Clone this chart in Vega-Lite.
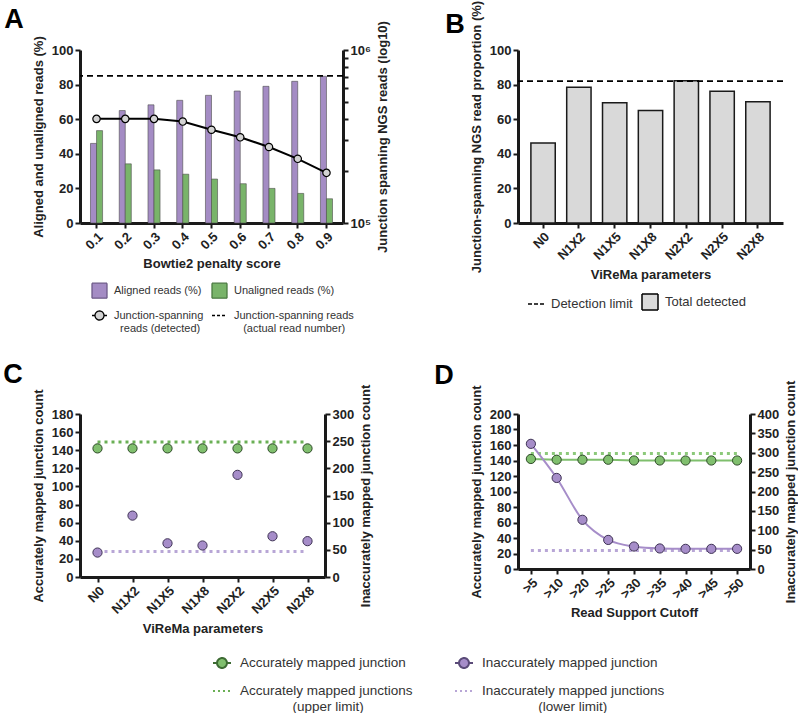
{
  "$schema": "https://vega.github.io/schema/vega-lite/v6.json",
  "background": "white",
  "padding": {"left": 3, "top": 0, "right": 0, "bottom": 0},
  "bounds": "flush",
  "spacing": 364,
  "resolve": {"scale": {"color": "independent", "fill": "independent", "stroke": "independent", "shape": "independent", "strokeDash": "independent"}, "legend": {"color": "independent", "fill": "independent", "stroke": "independent", "shape": "independent", "strokeDash": "independent"}},
  "config": {
    "font": "Liberation Sans",
    "view": {"stroke": null},
    "axis": {
      "domainColor": "#1a1a1a", "domainWidth": 3, "tickColor": "#1a1a1a", "tickWidth": 2, "tickSize": 5,
      "labelFont": "Liberation Sans", "labelFontSize": 13, "labelFontWeight": "bold", "labelColor": "#222",
      "titleFont": "Liberation Sans", "titleFontSize": 13, "titleFontWeight": "bold", "titleColor": "#222",
      "grid": false, "labelPadding": 2, "titlePadding": 6, "labelOverlap": false
    },
    "legend": {"labelFont": "Liberation Sans", "labelColor": "#333", "labelLimit": 400},
    "title": {"fontSize": 27, "fontWeight": "bold", "anchor": "start", "frame": "bounds", "color": "black", "font": "Liberation Sans"}
  },
  "datasets": {
    "a_bars": [
      {"score": "0.1", "series": "Aligned reads (%)", "value": 46.0},
      {"score": "0.1", "series": "Unaligned reads (%)", "value": 53.4},
      {"score": "0.2", "series": "Aligned reads (%)", "value": 65.0},
      {"score": "0.2", "series": "Unaligned reads (%)", "value": 34.2},
      {"score": "0.3", "series": "Aligned reads (%)", "value": 68.3},
      {"score": "0.3", "series": "Unaligned reads (%)", "value": 30.7},
      {"score": "0.4", "series": "Aligned reads (%)", "value": 70.9},
      {"score": "0.4", "series": "Unaligned reads (%)", "value": 28.2},
      {"score": "0.5", "series": "Aligned reads (%)", "value": 73.8},
      {"score": "0.5", "series": "Unaligned reads (%)", "value": 25.4},
      {"score": "0.6", "series": "Aligned reads (%)", "value": 76.3},
      {"score": "0.6", "series": "Unaligned reads (%)", "value": 22.7},
      {"score": "0.7", "series": "Aligned reads (%)", "value": 79.0},
      {"score": "0.7", "series": "Unaligned reads (%)", "value": 20.0},
      {"score": "0.8", "series": "Aligned reads (%)", "value": 81.9},
      {"score": "0.8", "series": "Unaligned reads (%)", "value": 17.1},
      {"score": "0.9", "series": "Aligned reads (%)", "value": 84.8},
      {"score": "0.9", "series": "Unaligned reads (%)", "value": 14.0}
    ],
    "a_line": [
      {"score": "0.1", "reads": 400000},
      {"score": "0.2", "reads": 400000},
      {"score": "0.3", "reads": 400000},
      {"score": "0.4", "reads": 386000},
      {"score": "0.5", "reads": 346000},
      {"score": "0.6", "reads": 313000},
      {"score": "0.7", "reads": 275000},
      {"score": "0.8", "reads": 235000},
      {"score": "0.9", "reads": 195000}
    ],
    "a_limit": [{"reads": 708000}],
    "b_bars": [
      {"param": "N0", "series": "Total detected", "value": 46.2},
      {"param": "N1X2", "series": "Total detected", "value": 78.4},
      {"param": "N1X5", "series": "Total detected", "value": 69.5},
      {"param": "N1X8", "series": "Total detected", "value": 65.1},
      {"param": "N2X2", "series": "Total detected", "value": 82.2},
      {"param": "N2X5", "series": "Total detected", "value": 76.1},
      {"param": "N2X8", "series": "Total detected", "value": 70.1}
    ],
    "b_limit": [{"series": "Detection limit", "value": 82.0}],
    "c_points": [
      {"param": "N0", "series": "Accurately mapped junction", "value": 142},
      {"param": "N1X2", "series": "Accurately mapped junction", "value": 142},
      {"param": "N1X5", "series": "Accurately mapped junction", "value": 142},
      {"param": "N1X8", "series": "Accurately mapped junction", "value": 142},
      {"param": "N2X2", "series": "Accurately mapped junction", "value": 142},
      {"param": "N2X5", "series": "Accurately mapped junction", "value": 142},
      {"param": "N2X8", "series": "Accurately mapped junction", "value": 142},
      {"param": "N0", "series": "Inaccurately mapped junction", "value": 45},
      {"param": "N1X2", "series": "Inaccurately mapped junction", "value": 113},
      {"param": "N1X5", "series": "Inaccurately mapped junction", "value": 62},
      {"param": "N1X8", "series": "Inaccurately mapped junction", "value": 58},
      {"param": "N2X2", "series": "Inaccurately mapped junction", "value": 188},
      {"param": "N2X5", "series": "Inaccurately mapped junction", "value": 75},
      {"param": "N2X8", "series": "Inaccurately mapped junction", "value": 66}
    ],
    "c_limits": [
      {"param": "N0", "series": "Accurately mapped junctions (upper limit)", "value": 149},
      {"param": "N1X2", "series": "Accurately mapped junctions (upper limit)", "value": 149},
      {"param": "N1X5", "series": "Accurately mapped junctions (upper limit)", "value": 149},
      {"param": "N1X8", "series": "Accurately mapped junctions (upper limit)", "value": 149},
      {"param": "N2X2", "series": "Accurately mapped junctions (upper limit)", "value": 149},
      {"param": "N2X5", "series": "Accurately mapped junctions (upper limit)", "value": 149},
      {"param": "N2X8", "series": "Accurately mapped junctions (upper limit)", "value": 149},
      {"param": "N0", "series": "Inaccurately mapped junctions (lower limit)", "value": 47},
      {"param": "N1X2", "series": "Inaccurately mapped junctions (lower limit)", "value": 47},
      {"param": "N1X5", "series": "Inaccurately mapped junctions (lower limit)", "value": 47},
      {"param": "N1X8", "series": "Inaccurately mapped junctions (lower limit)", "value": 47},
      {"param": "N2X2", "series": "Inaccurately mapped junctions (lower limit)", "value": 47},
      {"param": "N2X5", "series": "Inaccurately mapped junctions (lower limit)", "value": 47},
      {"param": "N2X8", "series": "Inaccurately mapped junctions (lower limit)", "value": 47}
    ],
    "d_points": [
      {"cutoff": ">5", "series": "Accurately mapped junction", "value": 142},
      {"cutoff": ">10", "series": "Accurately mapped junction", "value": 141},
      {"cutoff": ">20", "series": "Accurately mapped junction", "value": 141},
      {"cutoff": ">25", "series": "Accurately mapped junction", "value": 141},
      {"cutoff": ">30", "series": "Accurately mapped junction", "value": 140},
      {"cutoff": ">35", "series": "Accurately mapped junction", "value": 140},
      {"cutoff": ">40", "series": "Accurately mapped junction", "value": 140},
      {"cutoff": ">45", "series": "Accurately mapped junction", "value": 140},
      {"cutoff": ">50", "series": "Accurately mapped junction", "value": 140},
      {"cutoff": ">5", "series": "Inaccurately mapped junction", "value": 323},
      {"cutoff": ">10", "series": "Inaccurately mapped junction", "value": 235},
      {"cutoff": ">20", "series": "Inaccurately mapped junction", "value": 127},
      {"cutoff": ">25", "series": "Inaccurately mapped junction", "value": 75},
      {"cutoff": ">30", "series": "Inaccurately mapped junction", "value": 58},
      {"cutoff": ">35", "series": "Inaccurately mapped junction", "value": 53},
      {"cutoff": ">40", "series": "Inaccurately mapped junction", "value": 52},
      {"cutoff": ">45", "series": "Inaccurately mapped junction", "value": 52},
      {"cutoff": ">50", "series": "Inaccurately mapped junction", "value": 52}
    ],
    "d_limits": [
      {"cutoff": ">5", "series": "Accurately mapped junctions (upper limit)", "value": 149},
      {"cutoff": ">10", "series": "Accurately mapped junctions (upper limit)", "value": 149},
      {"cutoff": ">20", "series": "Accurately mapped junctions (upper limit)", "value": 149},
      {"cutoff": ">25", "series": "Accurately mapped junctions (upper limit)", "value": 149},
      {"cutoff": ">30", "series": "Accurately mapped junctions (upper limit)", "value": 149},
      {"cutoff": ">35", "series": "Accurately mapped junctions (upper limit)", "value": 149},
      {"cutoff": ">40", "series": "Accurately mapped junctions (upper limit)", "value": 149},
      {"cutoff": ">45", "series": "Accurately mapped junctions (upper limit)", "value": 149},
      {"cutoff": ">50", "series": "Accurately mapped junctions (upper limit)", "value": 149},
      {"cutoff": ">5", "series": "Inaccurately mapped junctions (lower limit)", "value": 48},
      {"cutoff": ">10", "series": "Inaccurately mapped junctions (lower limit)", "value": 48},
      {"cutoff": ">20", "series": "Inaccurately mapped junctions (lower limit)", "value": 48},
      {"cutoff": ">25", "series": "Inaccurately mapped junctions (lower limit)", "value": 48},
      {"cutoff": ">30", "series": "Inaccurately mapped junctions (lower limit)", "value": 48},
      {"cutoff": ">35", "series": "Inaccurately mapped junctions (lower limit)", "value": 48},
      {"cutoff": ">40", "series": "Inaccurately mapped junctions (lower limit)", "value": 48},
      {"cutoff": ">45", "series": "Inaccurately mapped junctions (lower limit)", "value": 48},
      {"cutoff": ">50", "series": "Inaccurately mapped junctions (lower limit)", "value": 48}
    ]
  },
  "vconcat": [
    {
      "hconcat": [
        {
          "width": 263, "height": 173,
          "title": {"text": "A", "dx": -28, "dy": 17},
          "layer": [
            {
              "data": {"name": "a_bars"},
              "mark": {"type": "bar", "stroke": "#4d4d4d", "strokeWidth": 0.6},
              "encoding": {
                "x": {"field": "score", "type": "ordinal", "scale": {"paddingInner": 0.58, "paddingOuter": 0.365},
                      "axis": {"title": "Bowtie2 penalty score", "labelAngle": -45}},
                "xOffset": {"field": "series", "type": "nominal", "scale": {"domain": ["Aligned reads (%)", "Unaligned reads (%)"]}},
                "y": {"field": "value", "type": "quantitative", "scale": {"domain": [0, 100], "nice": false},
                      "axis": {"title": "Aligned and unaligned reads (%)", "values": [0, 20, 40, 60, 80, 100], "labelOverlap": false}},
                "color": {
                  "field": "series", "type": "nominal",
                  "scale": {"domain": ["Aligned reads (%)", "Unaligned reads (%)"], "range": ["#a48cc4", "#79b46a"]},
                  "legend": null
                }
              }
            },
            {
              "data": {"name": "a_bars"},
              "transform": [{"filter": "false"}],
              "mark": {"type": "point", "filled": true, "opacity": 1},
              "encoding": {
                "fill": {
                  "field": "series", "type": "nominal",
                  "scale": {"domain": ["Aligned reads (%)", "Unaligned reads (%)", "Junction-spanning reads (detected)", "Junction-spanning reads (actual read number)"],
                            "range": ["#a48cc4", "#79b46a", "#d3d3d3", "transparent"]},
                  "legend": {
                    "orient": "none", "legendX": 11, "legendY": 232, "columns": 2, "direction": "horizontal", "title": null,
                    "labelFontSize": 11, "symbolSize": 225, "symbolStrokeWidth": 1.3, "symbolOpacity": 1, "labelOffset": 6, "columnPadding": 5, "rowPadding": 6,
                    "labelExpr": "datum.label == 'Junction-spanning reads (detected)' ? ['Junction-spanning', '\u200b\u00a0\u00a0reads (detected)'] : datum.label == 'Junction-spanning reads (actual read number)' ? ['Junction-spanning reads', '\u200b\u00a0\u00a0\u00a0(actual read number)'] : datum.label"
                  }
                },
                "stroke": {
                  "field": "series", "type": "nominal",
                  "scale": {"domain": ["Aligned reads (%)", "Unaligned reads (%)", "Junction-spanning reads (detected)", "Junction-spanning reads (actual read number)"],
                            "range": ["#6d5a88", "#4a7a40", "#000000", "#000000"]}
                },
                "shape": {
                  "field": "series", "type": "nominal",
                  "scale": {"domain": ["Aligned reads (%)", "Unaligned reads (%)", "Junction-spanning reads (detected)", "Junction-spanning reads (actual read number)"],
                            "range": ["square", "square", "M-1,0H-0.6M0.6,0H1M-0.6,0A0.6,0.6,0,1,1,0.6,0A0.6,0.6,0,1,1,-0.6,0Z", "stroke"]}
                },
                "strokeDash": {
                  "field": "series", "type": "nominal",
                  "scale": {"domain": ["Aligned reads (%)", "Unaligned reads (%)", "Junction-spanning reads (detected)", "Junction-spanning reads (actual read number)"],
                            "range": [[1, 0], [1, 0], [1, 0], [3, 2]]}
                }
              }
            },
            {
              "layer": [
                {
                  "data": {"name": "a_line"},
                  "mark": {"type": "line", "color": "black", "strokeWidth": 2,
                           "point": {"filled": true, "fill": "#d3d3d3", "stroke": "black", "strokeWidth": 1.2, "size": 55}},
                  "encoding": {
                    "x": {"field": "score", "type": "ordinal"},
                    "y": {"field": "reads", "type": "quantitative",
                          "scale": {"type": "log", "domain": [100000, 1000000], "nice": false},
                          "axis": {"orient": "right", "title": "Junction spanning NGS reads (log10)", "titleAngle": 270, "titleBaseline": "top",
                                   "values": [100000, 200000, 300000, 400000, 500000, 600000, 700000, 800000, 900000, 1000000],
                                   "labelExpr": "datum.value == 100000 ? '10\u2075' : datum.value == 1000000 ? '10\u2076' : ''",
                                   "labelFlush": false, "labelOverlap": false}}
                  }
                },
                {
                  "data": {"name": "a_limit"},
                  "mark": {"type": "rule", "strokeDash": [6, 4], "strokeWidth": 1.8, "color": "black"},
                  "encoding": {"y": {"field": "reads", "type": "quantitative",
                          "axis": {"orient": "right", "title": "Junction spanning NGS reads (log10)", "titleAngle": 270, "titleBaseline": "top",
                                   "values": [100000, 200000, 300000, 400000, 500000, 600000, 700000, 800000, 900000, 1000000],
                                   "labelExpr": "datum.value == 100000 ? '10\u2075' : datum.value == 1000000 ? '10\u2076' : ''",
                                   "labelFlush": false, "labelOverlap": false}}}
                }
              ]
            }
          ],
          "resolve": {"scale": {"y": "independent"}}
        },
        {
          "width": 265, "height": 173,
          "title": {"text": "B", "dx": -25, "dy": 43},
          "layer": [
            {
              "data": {"name": "b_bars"},
              "mark": {"type": "bar", "stroke": "#1a1a1a", "strokeWidth": 1.5, "color": "#d9d9d9"},
              "encoding": {
                "x": {"field": "param", "type": "nominal", "sort": null, "scale": {"paddingInner": 0.32, "paddingOuter": 0.36},
                      "axis": {"title": "ViReMa parameters", "labelAngle": -45}},
                "y": {"field": "value", "type": "quantitative", "scale": {"domain": [0, 100], "nice": false},
                      "axis": {"title": "Junction-spanning NGS read proportion (%)", "values": [0, 20, 40, 60, 80, 100], "labelOverlap": false}}
              }
            },
            {
              "data": {"name": "b_limit"},
              "mark": {"type": "rule", "strokeDash": [6, 4], "strokeWidth": 1.8, "color": "black"},
              "encoding": {"y": {"field": "value", "type": "quantitative",
                      "axis": {"title": "Junction-spanning NGS read proportion (%)", "values": [0, 20, 40, 60, 80, 100], "labelOverlap": false}}}
            },
            {
              "data": {"name": "b_bars"},
              "transform": [{"filter": "false"}],
              "mark": {"type": "point", "filled": true, "opacity": 1},
              "encoding": {
                "fill": {
                  "field": "series", "type": "nominal",
                  "scale": {"domain": ["Detection limit", "Total detected"], "range": ["transparent", "#d9d9d9"]},
                  "legend": {
                    "orient": "none", "legendX": 9, "legendY": 243, "direction": "horizontal", "title": null,
                    "labelFontSize": 13, "symbolSize": 256, "symbolStrokeWidth": 1.5, "symbolOpacity": 1, "labelOffset": 6, "columnPadding": 6
                  }
                },
                "stroke": {"field": "series", "type": "nominal", "scale": {"domain": ["Detection limit", "Total detected"], "range": ["#000000", "#000000"]}},
                "shape": {"field": "series", "type": "nominal", "scale": {"domain": ["Detection limit", "Total detected"], "range": ["stroke", "square"]}},
                "strokeDash": {"field": "series", "type": "nominal", "scale": {"domain": ["Detection limit", "Total detected"], "range": [[4, 2], [1, 0]]}}
              }
            }
          ]
        }
      ],
      "spacing": 175,
      "bounds": "flush",
      "resolve": {"scale": {"color": "independent", "fill": "independent", "stroke": "independent", "shape": "independent", "strokeDash": "independent"}, "legend": {"color": "independent", "fill": "independent", "stroke": "independent", "shape": "independent", "strokeDash": "independent"}}
    },
    {
      "hconcat": [
        {
          "width": 245, "height": 163,
          "title": {"text": "C", "dx": -29, "dy": 9},
          "layer": [
            {
              "layer": [
                {
                  "data": {"name": "c_limits"},
                  "transform": [{"filter": "datum.series == 'Accurately mapped junctions (upper limit)'"}],
                  "mark": {"type": "line", "color": "#6aaf55", "strokeWidth": 3, "strokeDash": [3, 4]},
                  "encoding": {
                    "x": {"field": "param", "type": "nominal", "sort": null, "axis": {"title": "ViReMa parameters", "labelAngle": -45}},
                    "y": {"field": "value", "type": "quantitative", "scale": {"domain": [0, 180], "nice": false},
                          "axis": {"title": "Accurately mapped junction count", "values": [0, 20, 40, 60, 80, 100, 120, 140, 160, 180], "labelOverlap": false}}
                  }
                },
                {
                  "data": {"name": "c_points"},
                  "transform": [{"filter": "datum.series == 'Accurately mapped junction'"}],
                  "mark": {"type": "point", "filled": true, "size": 85, "fill": "#80bf6e", "stroke": "#2d4a27", "strokeWidth": 1, "opacity": 1},
                  "encoding": {
                    "x": {"field": "param", "type": "nominal", "sort": null, "axis": {"title": "ViReMa parameters", "labelAngle": -45}},
                    "y": {"field": "value", "type": "quantitative",
                          "axis": {"title": "Accurately mapped junction count", "values": [0, 20, 40, 60, 80, 100, 120, 140, 160, 180], "labelOverlap": false}}
                  }
                },
                {
                  "data": {"name": "c_points"},
                  "transform": [{"filter": "false"}],
                  "mark": {"type": "point", "filled": true, "opacity": 1},
                  "encoding": {
                    "fill": {
                      "field": "series", "type": "nominal",
                      "scale": {"domain": ["Accurately mapped junction", "Inaccurately mapped junction", "Accurately mapped junctions (upper limit)", "Inaccurately mapped junctions (lower limit)"],
                                "range": ["#80bf6e", "#a68dc9", "transparent", "transparent"]},
                      "legend": {
                        "orient": "none", "legendX": 132, "legendY": 239, "columns": 2, "direction": "horizontal", "title": null,
                        "labelFontSize": 13.5, "symbolSize": 324, "symbolStrokeWidth": 2, "symbolOpacity": 1, "labelOffset": 8, "columnPadding": 38, "rowPadding": 9,
                        "labelExpr": "datum.label == 'Accurately mapped junctions (upper limit)' ? ['Accurately mapped junctions', '\u200b\u00a0\u00a0\u00a0\u00a0\u00a0\u00a0\u00a0\u00a0\u00a0\u00a0\u00a0\u00a0\u00a0\u00a0(upper limit)'] : datum.label == 'Inaccurately mapped junctions (lower limit)' ? ['Inaccurately mapped junctions', '\u200b\u00a0\u00a0\u00a0\u00a0\u00a0\u00a0\u00a0\u00a0\u00a0\u00a0\u00a0\u00a0\u00a0\u00a0\u00a0(lower limit)'] : datum.label"
                      }
                    },
                    "stroke": {
                      "field": "series", "type": "nominal",
                      "scale": {"domain": ["Accurately mapped junction", "Inaccurately mapped junction", "Accurately mapped junctions (upper limit)", "Inaccurately mapped junctions (lower limit)"],
                                "range": ["#3d6b33", "#5a4a78", "#6aaf55", "#b8a6d6"]}
                    },
                    "shape": {
                      "field": "series", "type": "nominal",
                      "scale": {"domain": ["Accurately mapped junction", "Inaccurately mapped junction", "Accurately mapped junctions (upper limit)", "Inaccurately mapped junctions (lower limit)"],
                                "range": ["M-1,0H-0.55M0.55,0H1M-0.55,0A0.55,0.55,0,1,1,0.55,0A0.55,0.55,0,1,1,-0.55,0Z", "M-1,0H-0.55M0.55,0H1M-0.55,0A0.55,0.55,0,1,1,0.55,0A0.55,0.55,0,1,1,-0.55,0Z", "stroke", "stroke"]}
                    },
                    "strokeDash": {
                      "field": "series", "type": "nominal",
                      "scale": {"domain": ["Accurately mapped junction", "Inaccurately mapped junction", "Accurately mapped junctions (upper limit)", "Inaccurately mapped junctions (lower limit)"],
                                "range": [[1, 0], [1, 0], [2, 3], [2, 3]]}
                    }
                  }
                }
              ]
            },
            {
              "layer": [
                {
                  "data": {"name": "c_limits"},
                  "transform": [{"filter": "datum.series == 'Inaccurately mapped junctions (lower limit)'"}],
                  "mark": {"type": "line", "color": "#b8a6d6", "strokeWidth": 3, "strokeDash": [3, 4]},
                  "encoding": {
                    "x": {"field": "param", "type": "nominal", "sort": null, "axis": {"title": "ViReMa parameters", "labelAngle": -45}},
                    "y": {"field": "value", "type": "quantitative", "scale": {"domain": [0, 300], "nice": false},
                          "axis": {"orient": "right", "title": "Inaccurately mapped junction count", "titleAngle": 270, "titleBaseline": "top",
                                   "values": [0, 50, 100, 150, 200, 250, 300], "labelOverlap": false}}
                  }
                },
                {
                  "data": {"name": "c_points"},
                  "transform": [{"filter": "datum.series == 'Inaccurately mapped junction'"}],
                  "mark": {"type": "point", "filled": true, "size": 85, "fill": "#a68dc9", "stroke": "#3f3355", "strokeWidth": 1, "opacity": 1},
                  "encoding": {
                    "x": {"field": "param", "type": "nominal", "sort": null, "axis": {"title": "ViReMa parameters", "labelAngle": -45}},
                    "y": {"field": "value", "type": "quantitative",
                          "axis": {"orient": "right", "title": "Inaccurately mapped junction count", "titleAngle": 270, "titleBaseline": "top",
                                   "values": [0, 50, 100, 150, 200, 250, 300], "labelOverlap": false}}
                  }
                }
              ]
            }
          ],
          "resolve": {"scale": {"y": "independent"}}
        },
        {
          "width": 232, "height": 155,
          "title": {"text": "D", "dx": -36, "dy": 14},
          "layer": [
            {
              "layer": [
                {
                  "data": {"name": "d_limits"},
                  "transform": [{"filter": "datum.series == 'Accurately mapped junctions (upper limit)'"}],
                  "mark": {"type": "line", "color": "#8cc97a", "strokeWidth": 3, "strokeDash": [3, 4]},
                  "encoding": {
                    "x": {"field": "cutoff", "type": "nominal", "sort": null, "axis": {"title": "Read Support Cutoff", "labelAngle": -45}},
                    "y": {"field": "value", "type": "quantitative", "scale": {"domain": [0, 200], "nice": false},
                          "axis": {"title": "Accurately mapped junction count", "values": [0, 20, 40, 60, 80, 100, 120, 140, 160, 180, 200], "labelOverlap": false}}
                  }
                },
                {
                  "data": {"name": "d_points"},
                  "transform": [{"filter": "datum.series == 'Accurately mapped junction'"}],
                  "mark": {"type": "line", "color": "#7fbf6d", "strokeWidth": 2,
                           "point": {"filled": true, "fill": "#80bf6e", "stroke": "#2d4a27", "strokeWidth": 1, "size": 85}},
                  "encoding": {
                    "x": {"field": "cutoff", "type": "nominal", "sort": null, "axis": {"title": "Read Support Cutoff", "labelAngle": -45}},
                    "y": {"field": "value", "type": "quantitative",
                          "axis": {"title": "Accurately mapped junction count", "values": [0, 20, 40, 60, 80, 100, 120, 140, 160, 180, 200], "labelOverlap": false}}
                  }
                }
              ]
            },
            {
              "layer": [
                {
                  "data": {"name": "d_limits"},
                  "transform": [{"filter": "datum.series == 'Inaccurately mapped junctions (lower limit)'"}],
                  "mark": {"type": "line", "color": "#b8a6d6", "strokeWidth": 3, "strokeDash": [3, 4]},
                  "encoding": {
                    "x": {"field": "cutoff", "type": "nominal", "sort": null, "axis": {"title": "Read Support Cutoff", "labelAngle": -45}},
                    "y": {"field": "value", "type": "quantitative", "scale": {"domain": [0, 400], "nice": false},
                          "axis": {"orient": "right", "title": "Inaccurately mapped junction count", "titleAngle": 270, "titleBaseline": "top",
                                   "values": [0, 50, 100, 150, 200, 250, 300, 350, 400], "labelOverlap": false}}
                  }
                },
                {
                  "data": {"name": "d_points"},
                  "transform": [{"filter": "datum.series == 'Inaccurately mapped junction'"}],
                  "mark": {"type": "line", "color": "#a68dc9", "strokeWidth": 2, "interpolate": "monotone",
                           "point": {"filled": true, "fill": "#a68dc9", "stroke": "#3f3355", "strokeWidth": 1, "size": 85}},
                  "encoding": {
                    "x": {"field": "cutoff", "type": "nominal", "sort": null, "axis": {"title": "Read Support Cutoff", "labelAngle": -45}},
                    "y": {"field": "value", "type": "quantitative",
                          "axis": {"orient": "right", "title": "Inaccurately mapped junction count", "titleAngle": 270, "titleBaseline": "top",
                                   "values": [0, 50, 100, 150, 200, 250, 300, 350, 400], "labelOverlap": false}}
                  }
                }
              ]
            }
          ],
          "resolve": {"scale": {"y": "independent"}}
        }
      ],
      "spacing": 193,
      "bounds": "flush",
      "resolve": {"scale": {"color": "independent", "fill": "independent", "stroke": "independent", "shape": "independent", "strokeDash": "independent"}, "legend": {"color": "independent", "fill": "independent", "stroke": "independent", "shape": "independent", "strokeDash": "independent"}}
    }
  ]
}
